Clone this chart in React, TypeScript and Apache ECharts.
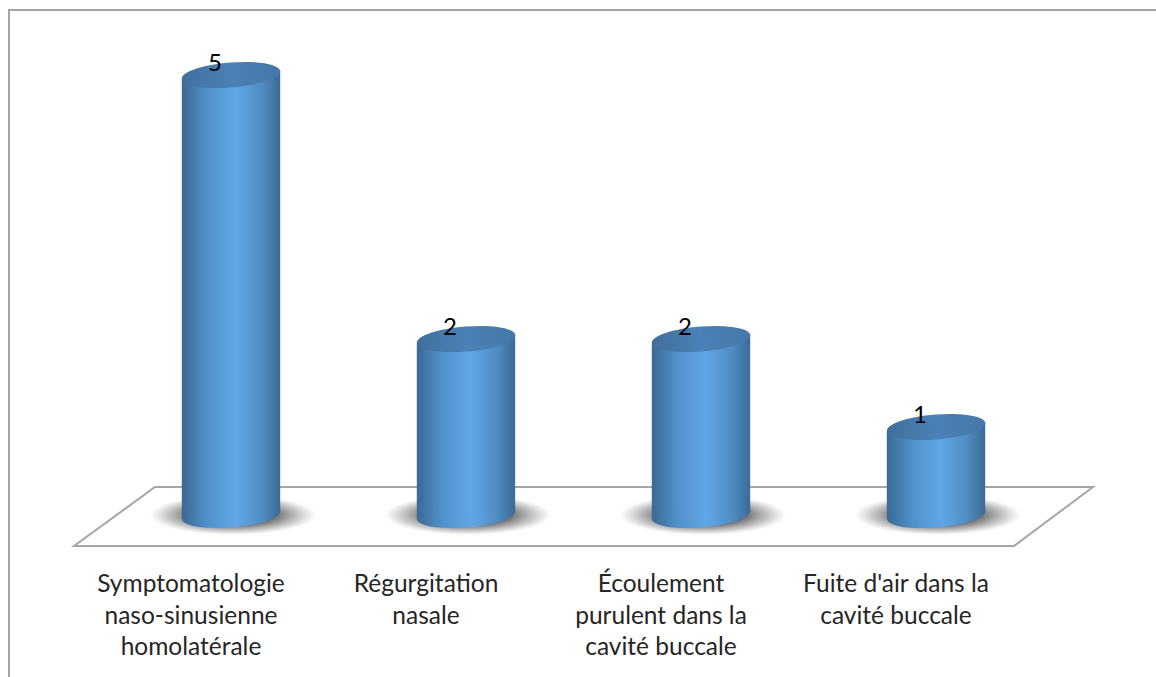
import React, { useEffect, useRef } from "react";
import * as echarts from "echarts";

// Category labels (line breaks as shown under each cylinder)
const categories = [
  "Symptomatologie\nnaso-sinusienne\nhomolatérale",
  "Régurgitation\nnasale",
  "Écoulement\npurulent dans la\ncavité buccale",
  "Fuite d'air dans la\ncavité buccale",
];

// Number of cases per category
const counts = [5, 2, 2, 1];

const FONT = "Lato, 'Open Sans', sans-serif";

export default function App() {
  const ref = useRef<HTMLDivElement>(null);

  useEffect(() => {
    if (!ref.current) return;
    const chart = echarts.init(ref.current, null, { renderer: "svg" });

    const bodyFill = () =>
      new echarts.graphic.LinearGradient(0, 0, 1, 0, [
        { offset: 0, color: "#3b6993" },
        { offset: 0.25, color: "#5090cb" },
        { offset: 0.55, color: "#60a7e5" },
        { offset: 0.82, color: "#4e8bc3" },
        { offset: 1, color: "#3c6a95" },
      ]);
    const topFill = () =>
      new echarts.graphic.LinearGradient(0, 0, 1, 0, [
        { offset: 0, color: "#416f9c" },
        { offset: 0.5, color: "#4b81b8" },
        { offset: 1, color: "#4677a8" },
      ]);
    const shadowFill = () =>
      new echarts.graphic.RadialGradient(0.5, 0.5, 0.5, [
        { offset: 0, color: "rgba(30,30,30,0.9)" },
        { offset: 0.5, color: "rgba(45,45,45,0.7)" },
        { offset: 0.8, color: "rgba(80,80,80,0.3)" },
        { offset: 1, color: "rgba(120,120,120,0)" },
      ]);

    const tilt = 0.08;

    chart.setOption({
      animation: false,
      backgroundColor: "#ffffff",
      graphic: [
        {
          type: "rect",
          z: 0,
          shape: { x: 9, y: 10, width: 1200, height: 720 },
          style: { fill: "none", stroke: "#a3a3a3", lineWidth: 2 },
        },
        {
          type: "polygon",
          z: 0,
          shape: {
            points: [
              [155, 487],
              [1093, 487],
              [1014, 546],
              [74, 546],
            ],
          },
          style: { fill: "#ffffff", stroke: "#a6a6a6", lineWidth: 2 },
        },
      ],
      grid: [
        { left: 113.5, width: 940, top: 75, height: 440 },
        { left: 73.5, width: 940, top: 75, height: 440 },
      ],
      xAxis: [
        {
          type: "category",
          gridIndex: 0,
          data: categories,
          show: false,
        },
        {
          type: "category",
          gridIndex: 1,
          data: categories,
          axisLine: { show: false },
          axisTick: { show: false },
          axisLabel: {
            interval: 0,
            margin: 52,
            color: "#262626",
            fontSize: 24.5,
            lineHeight: 31.5,
            fontFamily: FONT,
            verticalAlign: "top",
          },
        },
      ],
      yAxis: [
        { type: "value", gridIndex: 0, min: 0, max: 5, show: false },
        { type: "value", gridIndex: 1, min: 0, max: 5, show: false },
      ],
      series: [
        {
          type: "custom",
          xAxisIndex: 0,
          yAxisIndex: 0,
          z: 2,
          data: counts.map((v, i) => [i, v]),
          encode: { x: 0, y: 1 },
          renderItem: (_params: any, api: any) => {
            const idx = api.value(0);
            const val = api.value(1);
            const top = api.coord([idx, val]);
            const base = api.coord([idx, 0]);
            const bw = api.size([1, 0])[0] * 0.42;
            const cx = top[0];
            const rx = bw / 2;
            const ry = 12.5;
            const dx = rx * Math.cos(tilt);
            const dy = rx * Math.sin(tilt);
            return {
              type: "group",
              children: [
                {
                  type: "ellipse",
                  shape: { cx: cx + 2, cy: base[1], rx: rx + 34, ry: 20 },
                  style: { fill: shadowFill() },
                },
                {
                  type: "ellipse",
                  shape: { cx, cy: base[1], rx, ry },
                  rotation: tilt,
                  originX: cx,
                  originY: base[1],
                  style: { fill: bodyFill() },
                },
                {
                  type: "polygon",
                  shape: {
                    points: [
                      [cx - dx, top[1] + dy],
                      [cx + dx, top[1] - dy],
                      [cx + dx, base[1] - dy],
                      [cx - dx, base[1] + dy],
                    ],
                  },
                  style: { fill: bodyFill() },
                },
                {
                  type: "ellipse",
                  shape: { cx, cy: top[1], rx, ry },
                  rotation: tilt,
                  originX: cx,
                  originY: top[1],
                  style: { fill: topFill() },
                },
                {
                  type: "text",
                  x: cx - 16,
                  y: top[1] - 14,
                  style: {
                    text: String(val),
                    fill: "#000000",
                    fontSize: 24,
                    fontFamily: FONT,
                    align: "center",
                    verticalAlign: "middle",
                  },
                },
              ],
            };
          },
        },
      ],
    });

    return () => chart.dispose();
  }, []);

  return (
    <div
      ref={ref}
      style={{ position: "fixed", left: 0, top: 0, width: 1156, height: 677 }}
    />
  );
}
